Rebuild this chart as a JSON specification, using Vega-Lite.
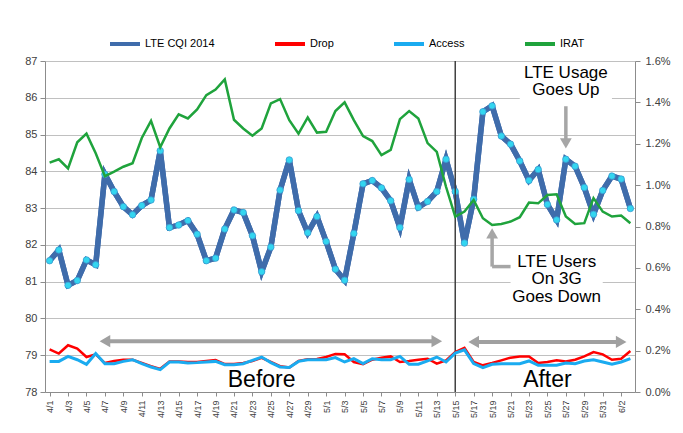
{
  "$schema": "https://vega.github.io/schema/vega-lite/v6.json",
  "width": 590,
  "height": 331,
  "autosize": {"type": "none"},
  "padding": {"left": 45, "top": 61, "right": 48, "bottom": 41},
  "background": "white",
  "config": {
    "view": {"stroke": null},
    "font": "Liberation Sans",
    "axis": {"labelFont": "Liberation Sans", "labelColor": "#404040", "domainColor": "#8C8C8C", "tickColor": "#8C8C8C", "gridColor": "#C0C0C0", "gridWidth": 1.2, "labelOverlap": false}
  },
  "datasets": {
    "days": [
      {"d": "4/1", "cqi": 81.57, "drop": 0.206, "access": 0.148, "irat": 1.109},
      {"d": "4/2", "cqi": 81.86, "drop": 0.186, "access": 0.148, "irat": 1.125},
      {"d": "4/3", "cqi": 80.90, "drop": 0.226, "access": 0.172, "irat": 1.081},
      {"d": "4/4", "cqi": 81.03, "drop": 0.210, "access": 0.156, "irat": 1.207},
      {"d": "4/5", "cqi": 81.59, "drop": 0.169, "access": 0.134, "irat": 1.249},
      {"d": "4/6", "cqi": 81.46, "drop": 0.182, "access": 0.186, "irat": 1.154},
      {"d": "4/7", "cqi": 83.92, "drop": 0.140, "access": 0.137, "irat": 1.043},
      {"d": "4/8", "cqi": 83.45, "drop": 0.150, "access": 0.137, "irat": 1.065},
      {"d": "4/9", "cqi": 83.04, "drop": 0.156, "access": 0.148, "irat": 1.089},
      {"d": "4/10", "cqi": 82.82, "drop": 0.156, "access": 0.156, "irat": 1.106},
      {"d": "4/11", "cqi": 83.07, "drop": 0.140, "access": 0.137, "irat": 1.228},
      {"d": "4/12", "cqi": 83.22, "drop": 0.125, "access": 0.121, "irat": 1.311},
      {"d": "4/13", "cqi": 84.56, "drop": 0.112, "access": 0.108, "irat": 1.183},
      {"d": "4/14", "cqi": 82.47, "drop": 0.148, "access": 0.145, "irat": 1.274},
      {"d": "4/15", "cqi": 82.54, "drop": 0.148, "access": 0.145, "irat": 1.342},
      {"d": "4/16", "cqi": 82.66, "drop": 0.145, "access": 0.140, "irat": 1.322},
      {"d": "4/17", "cqi": 82.29, "drop": 0.145, "access": 0.142, "irat": 1.366},
      {"d": "4/18", "cqi": 81.57, "drop": 0.150, "access": 0.145, "irat": 1.435},
      {"d": "4/19", "cqi": 81.64, "drop": 0.155, "access": 0.148, "irat": 1.462},
      {"d": "4/20", "cqi": 82.43, "drop": 0.135, "access": 0.132, "irat": 1.511},
      {"d": "4/21", "cqi": 82.95, "drop": 0.135, "access": 0.132, "irat": 1.316},
      {"d": "4/22", "cqi": 82.88, "drop": 0.140, "access": 0.137, "irat": 1.274},
      {"d": "4/23", "cqi": 82.25, "drop": 0.150, "access": 0.153, "irat": 1.239},
      {"d": "4/24", "cqi": 81.27, "drop": 0.165, "access": 0.169, "irat": 1.274},
      {"d": "4/25", "cqi": 81.94, "drop": 0.145, "access": 0.142, "irat": 1.395},
      {"d": "4/26", "cqi": 83.49, "drop": 0.125, "access": 0.121, "irat": 1.416},
      {"d": "4/27", "cqi": 84.31, "drop": 0.118, "access": 0.118, "irat": 1.314},
      {"d": "4/28", "cqi": 82.93, "drop": 0.150, "access": 0.148, "irat": 1.249},
      {"d": "4/29", "cqi": 82.33, "drop": 0.158, "access": 0.156, "irat": 1.327},
      {"d": "4/30", "cqi": 82.77, "drop": 0.160, "access": 0.156, "irat": 1.254},
      {"d": "5/1", "cqi": 82.09, "drop": 0.169, "access": 0.156, "irat": 1.258},
      {"d": "5/2", "cqi": 81.34, "drop": 0.184, "access": 0.166, "irat": 1.358},
      {"d": "5/3", "cqi": 81.04, "drop": 0.182, "access": 0.145, "irat": 1.400},
      {"d": "5/4", "cqi": 82.31, "drop": 0.145, "access": 0.161, "irat": 1.314},
      {"d": "5/5", "cqi": 83.66, "drop": 0.134, "access": 0.137, "irat": 1.237},
      {"d": "5/6", "cqi": 83.75, "drop": 0.156, "access": 0.161, "irat": 1.213},
      {"d": "5/7", "cqi": 83.55, "drop": 0.166, "access": 0.156, "irat": 1.145},
      {"d": "5/8", "cqi": 83.20, "drop": 0.172, "access": 0.156, "irat": 1.170},
      {"d": "5/9", "cqi": 82.47, "drop": 0.145, "access": 0.172, "irat": 1.319},
      {"d": "5/10", "cqi": 83.78, "drop": 0.150, "access": 0.134, "irat": 1.358},
      {"d": "5/11", "cqi": 83.02, "drop": 0.156, "access": 0.134, "irat": 1.322},
      {"d": "5/12", "cqi": 83.18, "drop": 0.161, "access": 0.150, "irat": 1.203},
      {"d": "5/13", "cqi": 83.45, "drop": 0.137, "access": 0.169, "irat": 1.161},
      {"d": "5/14", "cqi": 84.33, "drop": 0.153, "access": 0.145, "irat": 0.992},
      {"d": "5/15", "cqi": 83.45, "drop": 0.193, "access": 0.188, "irat": 0.848},
      {"d": "5/16", "cqi": 82.05, "drop": 0.214, "access": 0.204, "irat": 0.872},
      {"d": "5/17", "cqi": 83.24, "drop": 0.145, "access": 0.137, "irat": 0.928},
      {"d": "5/18", "cqi": 85.62, "drop": 0.129, "access": 0.118, "irat": 0.840},
      {"d": "5/19", "cqi": 85.78, "drop": 0.140, "access": 0.134, "irat": 0.807},
      {"d": "5/20", "cqi": 84.96, "drop": 0.153, "access": 0.137, "irat": 0.812},
      {"d": "5/21", "cqi": 84.74, "drop": 0.166, "access": 0.137, "irat": 0.824},
      {"d": "5/22", "cqi": 84.28, "drop": 0.172, "access": 0.137, "irat": 0.845},
      {"d": "5/23", "cqi": 83.75, "drop": 0.172, "access": 0.150, "irat": 0.916},
      {"d": "5/24", "cqi": 84.05, "drop": 0.140, "access": 0.129, "irat": 0.912},
      {"d": "5/25", "cqi": 83.10, "drop": 0.145, "access": 0.129, "irat": 0.952},
      {"d": "5/26", "cqi": 82.68, "drop": 0.153, "access": 0.129, "irat": 0.956},
      {"d": "5/27", "cqi": 84.33, "drop": 0.148, "access": 0.140, "irat": 0.848},
      {"d": "5/28", "cqi": 84.14, "drop": 0.156, "access": 0.137, "irat": 0.812},
      {"d": "5/29", "cqi": 83.56, "drop": 0.172, "access": 0.150, "irat": 0.816},
      {"d": "5/30", "cqi": 82.83, "drop": 0.193, "access": 0.156, "irat": 0.937},
      {"d": "5/31", "cqi": 83.48, "drop": 0.182, "access": 0.145, "irat": 0.872},
      {"d": "6/1", "cqi": 83.87, "drop": 0.156, "access": 0.134, "irat": 0.848},
      {"d": "6/2", "cqi": 83.79, "drop": 0.161, "access": 0.145, "irat": 0.853},
      {"d": "6/3", "cqi": 82.99, "drop": 0.198, "access": 0.161, "irat": 0.816}
    ],
    "boxes": [
      {"x1": "5/22", "x2": "6/1", "y1": 86.9, "y2": 85.9},
      {"x1": "5/21", "x2": "5/31", "y1": 81.8, "y2": 80.35}
    ],
    "divider": [{"d": "5/15"}],
    "spans": [
      {"from": "4/7", "to": "5/13", "level": 79.38},
      {"from": "5/17", "to": "6/2", "level": 79.36}
    ],
    "downArrow": [{"at": "5/27", "top": 85.77, "head": 84.76}],
    "upArrow": [{"at": "5/19", "head": 82.31, "bottom": 81.41, "end": "5/21"}],
    "notes": [
      {"x": "5/27", "y": 86.67, "t": "LTE Usage"},
      {"x": "5/27", "y": 86.2, "t": "Goes Up"},
      {"x": "5/26", "y": 81.54, "t": "LTE Users"},
      {"x": "5/26", "y": 81.07, "t": "On 3G"},
      {"x": "5/26", "y": 80.58, "t": "Goes Down"}
    ],
    "phases": [
      {"x": "4/24", "y": 78.14, "t": "Before"},
      {"x": "5/25", "y": 78.14, "t": "After"}
    ]
  },
  "layer": [
    {
      "layer": [
        {
          "data": {"name": "days"},
          "mark": {"type": "line", "strokeWidth": 5.5},
          "encoding": {
            "x": {
              "field": "d", "type": "ordinal", "title": null,
              "scale": {"type": "point", "padding": 0.5, "domain": ["4/1","4/2","4/3","4/4","4/5","4/6","4/7","4/8","4/9","4/10","4/11","4/12","4/13","4/14","4/15","4/16","4/17","4/18","4/19","4/20","4/21","4/22","4/23","4/24","4/25","4/26","4/27","4/28","4/29","4/30","5/1","5/2","5/3","5/4","5/5","5/6","5/7","5/8","5/9","5/10","5/11","5/12","5/13","5/14","5/15","5/16","5/17","5/18","5/19","5/20","5/21","5/22","5/23","5/24","5/25","5/26","5/27","5/28","5/29","5/30","5/31","6/1","6/2","6/3"]},
              "axis": {
                "title": null, "labelAngle": 270, "labelFontSize": 9, "labelPadding": 4, "tickSize": 4, "grid": false,
                "values": ["4/1","4/3","4/5","4/7","4/9","4/11","4/13","4/15","4/17","4/19","4/21","4/23","4/25","4/27","4/29","5/1","5/3","5/5","5/7","5/9","5/11","5/13","5/15","5/17","5/19","5/21","5/23","5/25","5/27","5/29","5/31","6/2"]
              }
            },
            "y": {
              "field": "cqi", "type": "quantitative", "title": null,
              "scale": {"domain": [78, 87], "nice": false, "zero": false},
              "axis": {"title": null, "values": [78,79,80,81,82,83,84,85,86,87], "tickCount": 10, "grid": true, "labelFontSize": 11, "tickSize": 5, "labelPadding": 3, "orient": "left"}
            },
            "color": {
              "datum": "LTE CQI 2014", "type": "nominal",
              "scale": {"domain": ["LTE CQI 2014", "Drop", "Access", "IRAT"], "range": ["#3F6CAB", "#FF0000", "#1AABF0", "#1FA33C"]},
              "legend": {
                "title": null, "orient": "none", "legendX": 63, "legendY": -34, "direction": "horizontal",
                "symbolType": "stroke", "symbolSize": 900, "symbolStrokeWidth": 4, "columnPadding": 52, "labelOffset": 3,
                "labelFontSize": 11, "labelFont": "Liberation Sans", "labelColor": "#000000"
              }
            }
          }
        },
        {
          "data": {"name": "boxes"},
          "mark": {"type": "rect", "fill": "white"},
          "encoding": {
            "x": {"field": "x1", "type": "ordinal", "title": null},
            "x2": {"field": "x2"},
            "y": {"field": "y1", "type": "quantitative", "title": null, "axis": {"title": null, "values": [78,79,80,81,82,83,84,85,86,87], "tickCount": 10, "grid": true, "labelFontSize": 11, "tickSize": 5, "labelPadding": 3, "orient": "left"}},
            "y2": {"field": "y2"}
          }
        },
        {
          "data": {"name": "days"},
          "mark": {"type": "line", "strokeWidth": 5.5, "color": "#3F6CAB"},
          "encoding": {
            "x": {"field": "d", "type": "ordinal", "title": null},
            "y": {"field": "cqi", "type": "quantitative", "title": null, "axis": {"title": null, "values": [78,79,80,81,82,83,84,85,86,87], "tickCount": 10, "grid": true, "labelFontSize": 11, "tickSize": 5, "labelPadding": 3, "orient": "left"}}
          }
        },
        {
          "data": {"name": "days"},
          "mark": {"type": "point", "filled": true, "size": 42, "fill": "#33D6F0", "stroke": "#3A9BD0", "strokeWidth": 0.8, "opacity": 1},
          "encoding": {
            "x": {"field": "d", "type": "ordinal", "title": null},
            "y": {"field": "cqi", "type": "quantitative", "title": null, "axis": {"title": null, "values": [78,79,80,81,82,83,84,85,86,87], "tickCount": 10, "grid": true, "labelFontSize": 11, "tickSize": 5, "labelPadding": 3, "orient": "left"}}
          }
        },
        {
          "data": {"name": "divider"},
          "mark": {"type": "rule", "color": "#404040", "strokeWidth": 1.5},
          "encoding": {"x": {"field": "d", "type": "ordinal", "title": null}}
        },
        {
          "data": {"name": "spans"},
          "mark": {"type": "rule", "color": "#A0A0A0", "strokeWidth": 4},
          "encoding": {
            "x": {"field": "from", "type": "ordinal", "title": null},
            "x2": {"field": "to"},
            "y": {"field": "level", "type": "quantitative", "title": null, "axis": {"title": null, "values": [78,79,80,81,82,83,84,85,86,87], "tickCount": 10, "grid": true, "labelFontSize": 11, "tickSize": 5, "labelPadding": 3, "orient": "left"}}
          }
        },
        {
          "data": {"name": "spans"},
          "mark": {"type": "point", "shape": "triangle-left", "filled": true, "size": 150, "color": "#A0A0A0", "opacity": 1},
          "encoding": {
            "x": {"field": "from", "type": "ordinal", "title": null},
            "y": {"field": "level", "type": "quantitative", "title": null, "axis": {"title": null, "values": [78,79,80,81,82,83,84,85,86,87], "tickCount": 10, "grid": true, "labelFontSize": 11, "tickSize": 5, "labelPadding": 3, "orient": "left"}}
          }
        },
        {
          "data": {"name": "spans"},
          "mark": {"type": "point", "shape": "triangle-right", "filled": true, "size": 150, "color": "#A0A0A0", "opacity": 1},
          "encoding": {
            "x": {"field": "to", "type": "ordinal", "title": null},
            "y": {"field": "level", "type": "quantitative", "title": null, "axis": {"title": null, "values": [78,79,80,81,82,83,84,85,86,87], "tickCount": 10, "grid": true, "labelFontSize": 11, "tickSize": 5, "labelPadding": 3, "orient": "left"}}
          }
        },
        {
          "data": {"name": "downArrow"},
          "mark": {"type": "rule", "color": "#A6A6A6", "strokeWidth": 3.5},
          "encoding": {
            "x": {"field": "at", "type": "ordinal", "title": null},
            "y": {"field": "top", "type": "quantitative", "title": null, "axis": {"title": null, "values": [78,79,80,81,82,83,84,85,86,87], "tickCount": 10, "grid": true, "labelFontSize": 11, "tickSize": 5, "labelPadding": 3, "orient": "left"}},
            "y2": {"field": "head"}
          }
        },
        {
          "data": {"name": "downArrow"},
          "mark": {"type": "point", "shape": "triangle-down", "filled": true, "size": 140, "color": "#A6A6A6", "opacity": 1},
          "encoding": {
            "x": {"field": "at", "type": "ordinal", "title": null},
            "y": {"field": "head", "type": "quantitative", "title": null, "axis": {"title": null, "values": [78,79,80,81,82,83,84,85,86,87], "tickCount": 10, "grid": true, "labelFontSize": 11, "tickSize": 5, "labelPadding": 3, "orient": "left"}}
          }
        },
        {
          "data": {"name": "upArrow"},
          "mark": {"type": "rule", "color": "#A6A6A6", "strokeWidth": 3.5},
          "encoding": {
            "x": {"field": "at", "type": "ordinal", "title": null},
            "y": {"field": "head", "type": "quantitative", "title": null, "axis": {"title": null, "values": [78,79,80,81,82,83,84,85,86,87], "tickCount": 10, "grid": true, "labelFontSize": 11, "tickSize": 5, "labelPadding": 3, "orient": "left"}},
            "y2": {"field": "bottom"}
          }
        },
        {
          "data": {"name": "upArrow"},
          "mark": {"type": "rule", "color": "#A6A6A6", "strokeWidth": 3.5},
          "encoding": {
            "x": {"field": "at", "type": "ordinal", "title": null},
            "x2": {"field": "end"},
            "y": {"field": "bottom", "type": "quantitative", "title": null, "axis": {"title": null, "values": [78,79,80,81,82,83,84,85,86,87], "tickCount": 10, "grid": true, "labelFontSize": 11, "tickSize": 5, "labelPadding": 3, "orient": "left"}}
          }
        },
        {
          "data": {"name": "upArrow"},
          "mark": {"type": "point", "shape": "triangle-up", "filled": true, "size": 140, "color": "#A6A6A6", "opacity": 1},
          "encoding": {
            "x": {"field": "at", "type": "ordinal", "title": null},
            "y": {"field": "head", "type": "quantitative", "title": null, "axis": {"title": null, "values": [78,79,80,81,82,83,84,85,86,87], "tickCount": 10, "grid": true, "labelFontSize": 11, "tickSize": 5, "labelPadding": 3, "orient": "left"}}
          }
        },
        {
          "data": {"name": "notes"},
          "mark": {"type": "text", "fontSize": 17, "font": "Liberation Sans", "color": "#000000", "baseline": "middle", "align": "center"},
          "encoding": {
            "x": {"field": "x", "type": "ordinal", "title": null},
            "y": {"field": "y", "type": "quantitative", "title": null, "axis": {"title": null, "values": [78,79,80,81,82,83,84,85,86,87], "tickCount": 10, "grid": true, "labelFontSize": 11, "tickSize": 5, "labelPadding": 3, "orient": "left"}},
            "text": {"field": "t"}
          }
        },
        {
          "data": {"name": "phases"},
          "mark": {"type": "text", "fontSize": 23, "font": "Liberation Sans", "color": "#000000", "baseline": "alphabetic", "align": "center"},
          "encoding": {
            "x": {"field": "x", "type": "ordinal", "title": null},
            "y": {"field": "y", "type": "quantitative", "title": null, "axis": {"title": null, "values": [78,79,80,81,82,83,84,85,86,87], "tickCount": 10, "grid": true, "labelFontSize": 11, "tickSize": 5, "labelPadding": 3, "orient": "left"}},
            "text": {"field": "t"}
          }
        }
      ]
    },
    {
      "data": {"name": "days"},
      "layer": [
        {
          "mark": {"type": "line", "strokeWidth": 2.5},
          "encoding": {
            "x": {"field": "d", "type": "ordinal", "title": null},
            "y": {
              "field": "drop", "type": "quantitative", "title": null,
              "scale": {"domain": [0, 1.6], "nice": false},
              "axis": {"title": null, "orient": "right", "values": [0,0.2,0.4,0.6,0.8,1.0,1.2,1.4,1.6], "labelExpr": "format(datum.value, '.1f') + '%'", "grid": false, "labelFontSize": 11, "tickSize": 5, "labelPadding": 5}
            },
            "color": {"datum": "Drop", "type": "nominal"}
          }
        },
        {
          "mark": {"type": "line", "strokeWidth": 3},
          "encoding": {
            "x": {"field": "d", "type": "ordinal", "title": null},
            "y": {"field": "access", "type": "quantitative", "title": null},
            "color": {"datum": "Access", "type": "nominal"}
          }
        },
        {
          "mark": {"type": "line", "strokeWidth": 2.5},
          "encoding": {
            "x": {"field": "d", "type": "ordinal", "title": null},
            "y": {"field": "irat", "type": "quantitative", "title": null},
            "color": {"datum": "IRAT", "type": "nominal"}
          }
        }
      ]
    }
  ],
  "resolve": {"scale": {"y": "independent"}, "axis": {"y": "independent"}}
}
